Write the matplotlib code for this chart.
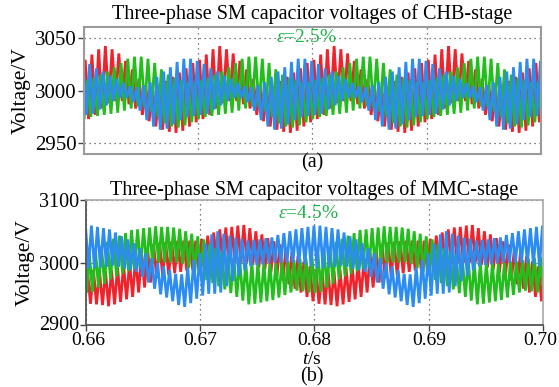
import matplotlib
matplotlib.use("Agg")
import matplotlib.pyplot as plt
import matplotlib.transforms as mtransforms
import numpy as np

plt.rcParams['font.family'] = ['Liberation Serif', 'DejaVu Serif']
plt.rcParams['mathtext.fontset'] = 'custom'
plt.rcParams['mathtext.rm'] = 'Liberation Serif'
plt.rcParams['mathtext.it'] = 'Liberation Serif:italic'

# ---------------- data ----------------
# Panel (a): one 10 ms ripple period, 17 switching spikes per period (repeats 4x)
chb_period = 0.01
chb_red_peaks = [3029, 3034, 3039, 3042, 3039, 3035, 3028, 3020, 3011, 3005, 3002, 3004, 3009, 3013, 3017, 3021, 3026]
chb_red_troughs = [2973, 2977, 2983, 2988, 2990, 2990, 2987, 2983, 2977, 2971, 2966, 2963, 2961, 2960, 2962, 2966, 2970]
chb_green_peaks = [3010, 3012, 3015, 3018, 3022, 3026, 3030, 3032, 3032, 3030, 3026, 3020, 3015, 3012, 3010, 3008, 3008]
chb_green_troughs = [2975, 2976, 2977, 2978, 2979, 2981, 2983, 2985, 2984, 2980, 2975, 2969, 2966, 2965, 2967, 2970, 2973]
chb_blue_peaks = [3025, 3021, 3018, 3014, 3011, 3007, 3004, 3003, 3005, 3008, 3013, 3018, 3022, 3027, 3030, 3030, 3028]
chb_blue_troughs = [2978, 2982, 2986, 2990, 2993, 2993, 2989, 2981, 2972, 2966, 2963, 2964, 2968, 2972, 2975, 2976, 2977]

# Panel (b): one 20 ms period, 38 switching spikes per period (repeats 2x)
mmc_period = 0.02
mmc_blue_peaks = [3059, 3057, 3055, 3053, 3048, 3042, 3037, 3031, 3023, 3015, 3007, 2999, 2994, 2988, 2982, 2981, 2992, 3004, 3015,
                  3030, 3045, 3050, 3046, 3043, 3040, 3038, 3035, 3036, 3037, 3039, 3040, 3044, 3047, 3050, 3053, 3055, 3057, 3059]
mmc_blue_troughs = [2991, 2992, 2993, 2995, 2993, 2990, 2988, 2985, 2977, 2968, 2958, 2949, 2944, 2938, 2932, 2929, 2935, 2942, 2947,
                    2950, 2950, 2952, 2962, 2970, 2978, 2987, 2994, 2996, 2997, 2999, 3000, 3000, 3000, 3000, 2999, 2997, 2994, 2991]
mmc_red_peaks = [2989, 2988, 2987, 2986, 2988, 2992, 2996, 3000, 3007, 3015, 3023, 3030, 3032, 3033, 3034, 3035, 3035, 3035, 3035,
                 3038, 3043, 3048, 3053, 3056, 3057, 3059, 3060, 3055, 3050, 3045, 3039, 3034, 3029, 3024, 3017, 3010, 3002, 2994]
mmc_red_troughs = [2934, 2933, 2932, 2930, 2933, 2937, 2941, 2945, 2952, 2960, 2968, 2975, 2978, 2980, 2983, 2985, 2987, 2988, 2989,
                   2991, 2993, 2995, 2997, 2998, 2999, 2999, 3000, 2996, 2992, 2989, 2984, 2978, 2971, 2965, 2958, 2952, 2945, 2938]
mmc_green_peaks = [3013, 3020, 3026, 3033, 3038, 3043, 3047, 3052, 3053, 3055, 3056, 3058, 3057, 3057, 3056, 3054, 3050, 3046, 3042,
                   3037, 3030, 3023, 3017, 3012, 3008, 3004, 3000, 3000, 2999, 2999, 2998, 2999, 3001, 3002, 3004, 3006, 3007, 3009]
mmc_green_troughs = [2953, 2960, 2966, 2973, 2978, 2982, 2986, 2990, 2992, 2995, 2998, 3000, 3000, 3000, 3000, 2998, 2991, 2985, 2978,
                     2972, 2967, 2962, 2957, 2951, 2945, 2939, 2933, 2934, 2936, 2938, 2940, 2944, 2948, 2952, 2955, 2954, 2952, 2951]

t_start, t_end = 0.66, 0.70
x_ticks = [0.66, 0.67, 0.68, 0.69, 0.70]
x_ticklabels = ['0.66', '0.67', '0.68', '0.69', '0.70']
chb_yticks = [2950, 3000, 3050]
mmc_yticks = [2900, 3000, 3100]

RED, GREEN, BLUE = '#f0222c', '#22bf1c', '#2b8cf2'


def zigzag(period, peaks, troughs, shift):
    n = len(peaks)
    dt = period / n
    n_per = int(round((t_end - t_start) / period))
    ts, vs = [], []
    for k in range(-1, n_per + 1):
        for j in range(n):
            base = t_start + k * period + (j + shift) * dt
            ts.append(base + 0.25 * dt); vs.append(peaks[j])
            ts.append(base + 0.75 * dt); vs.append(troughs[j])
    return np.array(ts), np.array(vs)


fig = plt.figure(figsize=(5.59, 3.87), dpi=100)
ax1 = fig.add_axes([0.1494, 0.602, 0.8184, 0.3282])
ax2 = fig.add_axes([0.1538, 0.1602, 0.8176, 0.323])

lw = 2.0
for ax, period, series in [
    (ax1, chb_period, [(chb_red_peaks, chb_red_troughs, RED, 0.0),
                       (chb_green_peaks, chb_green_troughs, GREEN, 0.33),
                       (chb_blue_peaks, chb_blue_troughs, BLUE, 0.66)]),
    (ax2, mmc_period, [(mmc_red_peaks, mmc_red_troughs, RED, 0.0),
                       (mmc_green_peaks, mmc_green_troughs, GREEN, 0.33),
                       (mmc_blue_peaks, mmc_blue_troughs, BLUE, 0.66)])]:
    for pk, tr, c, sh in series:
        t, v = zigzag(period, pk, tr, sh)
        ax.plot(t, v, color=c, lw=lw, solid_joinstyle='miter')
    ax.set_xlim(t_start, t_end)
    ax.set_xticks(x_ticks)
    ax.grid(True, linestyle=(0, (1, 3)), color='#555555', lw=0.9)
    ax.tick_params(direction='out', length=4, width=1, colors='#444444', labelcolor='black', labelsize=15, pad=1)

# top panel style
ax1.set_ylim(2940, 3060)
ax1.set_yticks(chb_yticks)
ax1.tick_params(axis='x', length=0, labelbottom=False)
for s in ax1.spines.values():
    s.set_color('#9a9a9a'); s.set_linewidth(1.5)
ax1.set_ylabel('Voltage/V', fontsize=15.5, labelpad=3)
ax1.text(0.5, 1.02, 'Three-phase SM capacitor voltages of CHB-stage', transform=ax1.transAxes,
         ha='center', va='bottom', fontsize=14.5)
ax1.text(0.6768, 3050, r'$\varepsilon$=2.5%', color='#1db34a', fontsize=14, va='center')

# bottom panel style
ax2.set_ylim(2900, 3100)
ax2.set_yticks(mmc_yticks)
ax2.set_xticklabels(x_ticklabels)
ax2.tick_params(axis='x', labelsize=14, pad=1)
ax2.tick_params(axis='y', labelsize=14.5)
xlabels = ax2.get_xticklabels()
xlabels[-1].set_transform(xlabels[-1].get_transform() + mtransforms.ScaledTranslation(-3 / 100, 0, fig.dpi_scale_trans))
xlabels[0].set_transform(xlabels[0].get_transform() + mtransforms.ScaledTranslation(2 / 100, 0, fig.dpi_scale_trans))
ylabels = ax2.get_yticklabels()
ylabels[0].set_transform(ylabels[0].get_transform() + mtransforms.ScaledTranslation(0, 2 / 100, fig.dpi_scale_trans))
for k in ('top', 'right'):
    ax2.spines[k].set_color('#a8a8a8'); ax2.spines[k].set_linewidth(1.2)
for k in ('left', 'bottom'):
    ax2.spines[k].set_color('#555555'); ax2.spines[k].set_linewidth(1.3)
ax2.set_ylabel('Voltage/V', fontsize=15.5, labelpad=3)
ax2.text(0.5, 1.0, 'Three-phase SM capacitor voltages of MMC-stage', transform=ax2.transAxes,
         ha='center', va='bottom', fontsize=14.5)
ax2.text(0.6768, 3079, r'$\varepsilon$=4.5%', color='#1db34a', fontsize=14, va='center')

fig.text(312 / 559, 1 - 163 / 387, '(a)', ha='center', va='center', fontsize=14.5)
fig.text(312 / 559, 1 - 359 / 387, r'$t$/s', ha='center', va='center', fontsize=14)
fig.text(312 / 559, 1 - 377 / 387, '(b)', ha='center', va='center', fontsize=14.5)

fig.savefig('out.png', dpi=100)
